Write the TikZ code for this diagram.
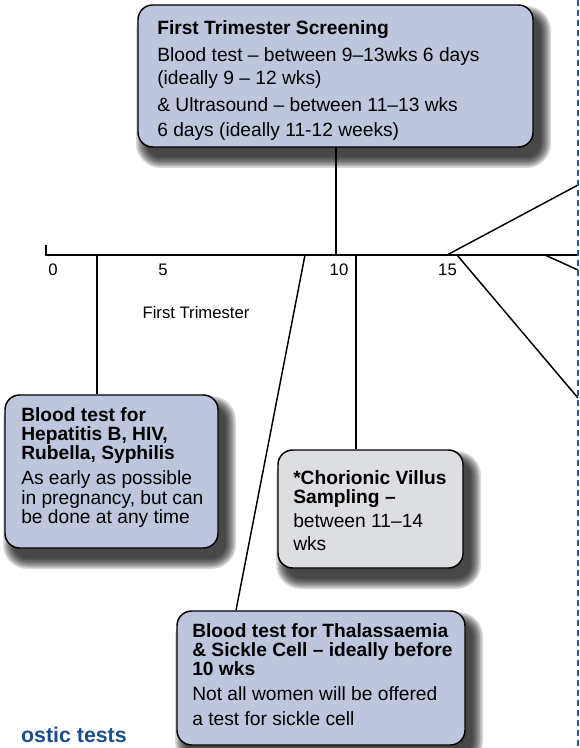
\documentclass[tikz,border=0pt]{standalone}
\usepackage{fontspec}
\setmainfont{Liberation Sans}
\usetikzlibrary{fit}
\definecolor{lav}{RGB}{190,198,222}
\definecolor{cvsgray}{RGB}{221,222,226}
\definecolor{dashblue}{RGB}{30,90,160}
\definecolor{titleblue}{RGB}{28,78,140}
% soft shadow: #1,#2 top-left, #3,#4 bottom-right (px)
\newcommand\softshadow[4]{%
  \foreach \r in {10,8.5,7,5.5,4,2.5,1,-0.5}{%
    \fill[black, opacity=0.15, rounded corners={(11+0.75*\r)*1pt}]
      ({#1+8-\r},{#2+11-\r}) rectangle ({#3+8+\r},{#4+11+\r});
  }%
}
\begin{document}
\begin{tikzpicture}[x=0.75pt,y=-0.75pt,
  box/.style={draw=black, line width=1.1pt, rounded corners=11pt, inner sep=0pt},
  lavbox/.style={box, fill=lav},
  graybox/.style={box, fill=cvsgray},
  txt/.style={anchor=north west, inner sep=0pt, align=left, font=\fontsize{14.4pt}{14.25pt}\selectfont},
  num/.style={anchor=base, inner sep=0pt, font=\fontsize{12.5pt}{15pt}\selectfont},
  conn/.style={line width=1.1pt, black}]
\useasboundingbox (0,0) rectangle (580,748);

% shadows
\softshadow{138}{5}{533}{147}
\softshadow{5}{395}{218}{548}
\softshadow{278}{450}{463}{568}
\softshadow{177}{611}{465}{745}

% boxes
\node[lavbox, fit={(138,5) (533,147)}] (screen) {};
\node[lavbox, fit={(5,395) (218,548)}] (hep) {};
\node[graybox, fit={(278,450) (463,568)}] (cvs) {};
\node[lavbox, fit={(177,611) (465,745)}] (thal) {};

% box texts
\node[txt] (screentxt) at (157,20) {\textbf{First Trimester Screening}\\[6pt]
Blood test – between 9–13wks 6 days\\[3pt]
(ideally 9 – 12 wks)\\[6pt]
\& Ultrasound – between 11–13 wks\\[4.5pt]
6 days (ideally 11-12 weeks)};
\node[txt] (heptxt) at (21,407) {\textbf{Blood test for}\\
\textbf{Hepatitis B, HIV,}\\
\textbf{Rubella, Syphilis}\\[4.5pt]
As early as possible\\[0.75pt]
in pregnancy, but can\\
be done at any time};
\node[txt] (cvstxt) at (293,470) {\textbf{*Chorionic Villus}\\
\textbf{Sampling –}\\[4pt]
between 11–14\\[3pt]
wks};
\node[txt] (thaltxt) at (192,623) {\textbf{Blood test for Thalassaemia}\\
\textbf{\& Sickle Cell – ideally before}\\
\textbf{10 wks}\\[4.5pt]
Not all women will be offered\\[4.5pt]
a test for sickle cell};

% timeline
\coordinate (tick) at (46,245);
\coordinate (tl0) at (46,255);
\coordinate (tlend) at (578,255);
\draw[conn] (tick) -- (tl0) -- (tlend);

\node[num] (n0) at (53,275) {0};
\node[num] (n5) at (163,275) {5};
\node[num] (n10) at (339,275) {10};
\node[num] (n15) at (447.5,275) {15};
\node[num] (tri) at (196,318) {First Trimester};

% connectors
\coordinate (t1) at (336,255);
\draw[conn] (screen.south -| t1) -- (t1);
\coordinate (t2) at (97,255);
\draw[conn] (t2) -- (t2 |- hep.north);
\coordinate (t3) at (356,255);
\draw[conn] (t3) -- (t3 |- cvs.north);
\coordinate (t4) at (305,255);
\coordinate (t4b) at (236,700);
\draw[conn] (t4) -- (thal.north -| t4b);

\coordinate (t15) at (447,255);
\coordinate (r1) at (578,185);
\draw[conn] (t15) -- (r1);
\coordinate (t15b) at (457,255);
\coordinate (r2) at (578,398);
\draw[conn] (t15b) -- (r2);
\coordinate (t18) at (545,255);
\coordinate (r3) at (578,270);
\draw[conn] (t18) -- (r3);

% dashed divider
\coordinate (dtop) at (578,0);
\coordinate (dbot) at (578,748);
\draw[dashblue, line width=1.5pt, dash pattern=on 4.5pt off 3pt] (dtop) -- (dbot);

% cut title
\node[anchor=base east, inner sep=0pt, text=titleblue, font=\bfseries\fontsize{16pt}{18pt}\selectfont] (diag) at (127,742) {ostic tests};
\end{tikzpicture}
\end{document}
